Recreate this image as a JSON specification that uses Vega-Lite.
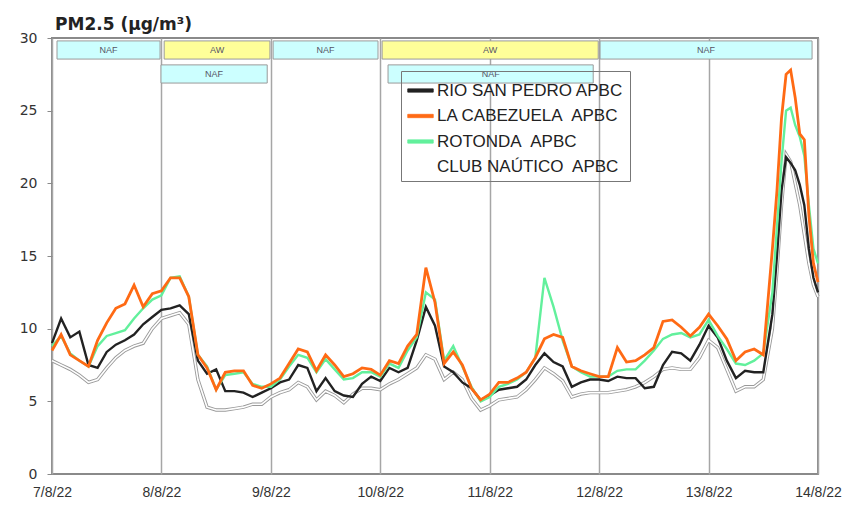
{
  "$schema": "https://vega.github.io/schema/vega-lite/v6.json",
  "width": 766,
  "height": 436,
  "autosize": {"type": "none"},
  "padding": {"left": 52, "top": 38, "right": 28, "bottom": 56},
  "background": "#ffffff",
  "title": {"text": "PM2.5 (µg/m³)", "anchor": "start", "frame": "group", "font": "DejaVu Sans", "fontSize": 17, "fontWeight": "bold", "color": "#222222", "offset": -3, "dx": 3},
  "config": {
    "view": {"stroke": "#8a8a8a", "strokeWidth": 2},
    "axis": {"labelFont": "DejaVu Sans", "labelColor": "#333333"}
  },
  "datasets": {
    "pm": [
      {"t":"2022-08-07T00:00:00Z","a":9.0,"b":8.5,"c":8.8,"d":7.8},
      {"t":"2022-08-07T02:00:00Z","a":10.7,"b":9.6,"c":9.5,"d":7.5},
      {"t":"2022-08-07T04:00:00Z","a":9.4,"b":8.2,"c":8.3,"d":7.2},
      {"t":"2022-08-07T06:00:00Z","a":9.8,"b":7.8,"c":7.8,"d":6.8},
      {"t":"2022-08-07T08:00:00Z","a":7.5,"b":7.4,"c":7.4,"d":6.3},
      {"t":"2022-08-07T10:00:00Z","a":7.3,"b":9.2,"c":8.8,"d":6.5},
      {"t":"2022-08-07T12:00:00Z","a":8.4,"b":10.4,"c":9.5,"d":7.3},
      {"t":"2022-08-07T14:00:00Z","a":8.9,"b":11.4,"c":9.7,"d":8.0},
      {"t":"2022-08-07T16:00:00Z","a":9.2,"b":11.7,"c":9.9,"d":8.5},
      {"t":"2022-08-07T18:00:00Z","a":9.6,"b":13.0,"c":10.7,"d":8.8},
      {"t":"2022-08-07T20:00:00Z","a":10.3,"b":11.5,"c":11.4,"d":9.0},
      {"t":"2022-08-07T22:00:00Z","a":10.8,"b":12.4,"c":12.0,"d":10.0},
      {"t":"2022-08-08T00:00:00Z","a":11.3,"b":12.6,"c":12.3,"d":10.7},
      {"t":"2022-08-08T02:00:00Z","a":11.4,"b":13.5,"c":13.5,"d":10.9},
      {"t":"2022-08-08T04:00:00Z","a":11.6,"b":13.5,"c":13.6,"d":11.1},
      {"t":"2022-08-08T06:00:00Z","a":11.0,"b":12.2,"c":12.2,"d":10.3},
      {"t":"2022-08-08T08:00:00Z","a":7.8,"b":8.2,"c":8.2,"d":6.5},
      {"t":"2022-08-08T10:00:00Z","a":6.9,"b":7.3,"c":7.4,"d":4.6},
      {"t":"2022-08-08T12:00:00Z","a":7.2,"b":5.8,"c":5.8,"d":4.4},
      {"t":"2022-08-08T14:00:00Z","a":5.7,"b":7.0,"c":6.8,"d":4.4},
      {"t":"2022-08-08T16:00:00Z","a":5.7,"b":7.1,"c":6.9,"d":4.5},
      {"t":"2022-08-08T18:00:00Z","a":5.6,"b":7.1,"c":7.0,"d":4.6},
      {"t":"2022-08-08T20:00:00Z","a":5.3,"b":6.1,"c":6.2,"d":4.8},
      {"t":"2022-08-08T22:00:00Z","a":5.6,"b":5.9,"c":6.0,"d":4.8},
      {"t":"2022-08-09T00:00:00Z","a":5.9,"b":6.2,"c":6.0,"d":5.3},
      {"t":"2022-08-09T02:00:00Z","a":6.3,"b":6.6,"c":6.5,"d":5.6},
      {"t":"2022-08-09T04:00:00Z","a":6.5,"b":7.6,"c":7.4,"d":5.8},
      {"t":"2022-08-09T06:00:00Z","a":7.5,"b":8.6,"c":8.2,"d":6.3},
      {"t":"2022-08-09T08:00:00Z","a":7.3,"b":8.4,"c":8.0,"d":6.0},
      {"t":"2022-08-09T10:00:00Z","a":5.7,"b":7.1,"c":7.0,"d":5.1},
      {"t":"2022-08-09T12:00:00Z","a":6.6,"b":8.2,"c":7.9,"d":5.7},
      {"t":"2022-08-09T14:00:00Z","a":5.7,"b":7.5,"c":7.2,"d":5.4},
      {"t":"2022-08-09T16:00:00Z","a":5.4,"b":6.7,"c":6.5,"d":4.9},
      {"t":"2022-08-09T18:00:00Z","a":5.3,"b":6.9,"c":6.6,"d":5.5},
      {"t":"2022-08-09T20:00:00Z","a":6.2,"b":7.3,"c":7.0,"d":5.9},
      {"t":"2022-08-09T22:00:00Z","a":6.7,"b":7.2,"c":7.0,"d":5.9},
      {"t":"2022-08-10T00:00:00Z","a":6.4,"b":6.8,"c":6.7,"d":5.8},
      {"t":"2022-08-10T02:00:00Z","a":7.3,"b":7.8,"c":7.6,"d":6.2},
      {"t":"2022-08-10T04:00:00Z","a":7.0,"b":7.6,"c":7.3,"d":6.5},
      {"t":"2022-08-10T06:00:00Z","a":7.3,"b":8.8,"c":8.5,"d":6.9},
      {"t":"2022-08-10T08:00:00Z","a":9.2,"b":9.6,"c":9.4,"d":7.3},
      {"t":"2022-08-10T10:00:00Z","a":11.5,"b":14.2,"c":12.5,"d":8.2},
      {"t":"2022-08-10T12:00:00Z","a":10.2,"b":11.8,"c":12.0,"d":7.9},
      {"t":"2022-08-10T14:00:00Z","a":7.4,"b":7.6,"c":7.8,"d":6.5},
      {"t":"2022-08-10T16:00:00Z","a":7.0,"b":8.4,"c":8.8,"d":7.0},
      {"t":"2022-08-10T18:00:00Z","a":6.3,"b":7.5,"c":7.4,"d":6.5},
      {"t":"2022-08-10T20:00:00Z","a":5.9,"b":5.9,"c":6.0,"d":5.2},
      {"t":"2022-08-10T22:00:00Z","a":5.1,"b":5.1,"c":5.0,"d":4.4},
      {"t":"2022-08-11T00:00:00Z","a":5.4,"b":5.5,"c":5.3,"d":4.7},
      {"t":"2022-08-11T02:00:00Z","a":5.8,"b":6.3,"c":6.0,"d":5.1},
      {"t":"2022-08-11T04:00:00Z","a":5.9,"b":6.3,"c":6.2,"d":5.2},
      {"t":"2022-08-11T06:00:00Z","a":6.0,"b":6.6,"c":6.5,"d":5.3},
      {"t":"2022-08-11T08:00:00Z","a":6.5,"b":7.0,"c":7.0,"d":5.8},
      {"t":"2022-08-11T10:00:00Z","a":7.5,"b":8.0,"c":8.0,"d":6.5},
      {"t":"2022-08-11T12:00:00Z","a":8.3,"b":9.3,"c":13.5,"d":7.3},
      {"t":"2022-08-11T14:00:00Z","a":7.7,"b":9.6,"c":11.5,"d":6.9},
      {"t":"2022-08-11T16:00:00Z","a":7.4,"b":9.4,"c":9.2,"d":6.4},
      {"t":"2022-08-11T18:00:00Z","a":6.0,"b":7.4,"c":7.4,"d":5.3},
      {"t":"2022-08-11T20:00:00Z","a":6.3,"b":7.1,"c":7.0,"d":5.5},
      {"t":"2022-08-11T22:00:00Z","a":6.5,"b":6.9,"c":6.7,"d":5.6},
      {"t":"2022-08-12T00:00:00Z","a":6.5,"b":6.7,"c":6.7,"d":5.6},
      {"t":"2022-08-12T02:00:00Z","a":6.4,"b":6.7,"c":6.7,"d":5.6},
      {"t":"2022-08-12T04:00:00Z","a":6.7,"b":8.7,"c":7.1,"d":5.7},
      {"t":"2022-08-12T06:00:00Z","a":6.6,"b":7.7,"c":7.2,"d":5.8},
      {"t":"2022-08-12T08:00:00Z","a":6.6,"b":7.8,"c":7.2,"d":6.0},
      {"t":"2022-08-12T10:00:00Z","a":5.9,"b":8.2,"c":7.8,"d":6.3},
      {"t":"2022-08-12T12:00:00Z","a":6.0,"b":8.7,"c":8.5,"d":6.7},
      {"t":"2022-08-12T14:00:00Z","a":7.5,"b":10.5,"c":9.3,"d":7.2},
      {"t":"2022-08-12T16:00:00Z","a":8.4,"b":10.6,"c":9.6,"d":7.3},
      {"t":"2022-08-12T18:00:00Z","a":8.3,"b":10.1,"c":9.7,"d":7.2},
      {"t":"2022-08-12T20:00:00Z","a":7.8,"b":9.5,"c":9.4,"d":7.2},
      {"t":"2022-08-12T22:00:00Z","a":8.9,"b":10.1,"c":9.6,"d":8.0},
      {"t":"2022-08-13T00:00:00Z","a":10.2,"b":11.0,"c":10.6,"d":9.2},
      {"t":"2022-08-13T02:00:00Z","a":9.4,"b":10.2,"c":9.5,"d":8.7},
      {"t":"2022-08-13T04:00:00Z","a":7.8,"b":9.3,"c":8.6,"d":7.2},
      {"t":"2022-08-13T06:00:00Z","a":6.6,"b":7.8,"c":7.6,"d":5.7},
      {"t":"2022-08-13T08:00:00Z","a":7.1,"b":8.4,"c":7.5,"d":6.0},
      {"t":"2022-08-13T10:00:00Z","a":7.0,"b":8.6,"c":7.8,"d":6.0},
      {"t":"2022-08-13T12:00:00Z","a":7.0,"b":8.2,"c":8.3,"d":6.5},
      {"t":"2022-08-13T14:00:00Z","a":11.0,"b":15.5,"c":12.5,"d":10.0},
      {"t":"2022-08-13T15:00:00Z","a":15.0,"b":19.5,"c":17.0,"d":14.0},
      {"t":"2022-08-13T16:00:00Z","a":19.5,"b":24.5,"c":21.5,"d":18.5},
      {"t":"2022-08-13T17:00:00Z","a":21.8,"b":27.5,"c":25.0,"d":22.0},
      {"t":"2022-08-13T18:00:00Z","a":21.4,"b":27.8,"c":25.2,"d":21.5},
      {"t":"2022-08-13T19:00:00Z","a":20.9,"b":25.9,"c":24.0,"d":20.0},
      {"t":"2022-08-13T20:00:00Z","a":19.9,"b":23.4,"c":23.2,"d":18.5},
      {"t":"2022-08-13T21:00:00Z","a":18.5,"b":23.0,"c":21.9,"d":16.5},
      {"t":"2022-08-13T22:00:00Z","a":15.5,"b":17.8,"c":18.5,"d":14.5},
      {"t":"2022-08-13T23:00:00Z","a":13.5,"b":14.5,"c":15.5,"d":13.0},
      {"t":"2022-08-14T00:00:00Z","a":12.5,"b":13.2,"c":14.5,"d":12.2}
    ],
    "episodes": [
      {"type":"NAF","lane":1,"start":"2022-08-07T01:06:00Z","end":"2022-08-07T23:42:00Z"},
      {"type":"AW","lane":1,"start":"2022-08-08T00:36:00Z","end":"2022-08-08T23:48:00Z"},
      {"type":"NAF","lane":1,"start":"2022-08-09T00:30:00Z","end":"2022-08-09T23:30:00Z"},
      {"type":"AW","lane":1,"start":"2022-08-10T00:24:00Z","end":"2022-08-11T23:48:00Z"},
      {"type":"NAF","lane":1,"start":"2022-08-12T00:12:00Z","end":"2022-08-13T22:42:00Z"},
      {"type":"NAF","lane":2,"start":"2022-08-07T23:54:00Z","end":"2022-08-08T23:12:00Z"},
      {"type":"NAF","lane":2,"start":"2022-08-10T01:42:00Z","end":"2022-08-11T22:42:00Z"}
    ]
  },
  "layer": [
    {
      "data": {"name": "episodes", "format": {"parse": {"start": "date", "end": "date"}}},
      "transform": [{"filter": "datum.lane === 1"}],
      "mark": {"type": "rect", "stroke": "#9a9a9a", "strokeWidth": 1},
      "encoding": {
        "x": {"field": "start", "type": "temporal", "title": null,
          "scale": {"type": "utc", "domain": [{"year": 2022, "month": 8, "date": 7, "utc": true}, {"year": 2022, "month": 8, "date": 14, "utc": true}]},
          "axis": {"labelExpr": "utcFormat(datum.value, '%-d/%-m/%y')", "tickCount": {"interval": "day", "step": 1},
            "grid": true, "gridColor": "#a6a6a6", "gridWidth": 1.5, "gridOpacity": 1,
            "domain": false, "ticks": false, "labelPadding": 11, "labelFont": "Liberation Sans", "labelFontSize": 14,
            "labelColor": "#333333", "labelOverlap": false, "labelFlush": false, "labelBound": false}},
        "x2": {"field": "end"},
        "y": {"datum": 29.8, "type": "quantitative", "title": null,
          "scale": {"domain": [0, 30], "nice": false, "zero": true},
          "axis": {"values": [0, 5, 10, 15, 20, 25, 30], "grid": false, "domain": false, "ticks": true, "tickSize": 5,
            "tickColor": "#8a8a8a", "labelPadding": 10, "labelFontSize": 14, "labelFont": "DejaVu Sans", "labelColor": "#333333"}},
        "y2": {"datum": 28.55},
        "fill": {"field": "type", "type": "nominal", "scale": {"domain": ["NAF", "AW"], "range": ["#ccffff", "#ffff99"]}, "legend": null}
      }
    },
    {
      "data": {"name": "episodes", "format": {"parse": {"start": "date", "end": "date"}}},
      "transform": [{"filter": "datum.lane === 2"}],
      "mark": {"type": "rect", "stroke": "#9a9a9a", "strokeWidth": 1},
      "encoding": {
        "x": {"field": "start", "type": "temporal", "title": null},
        "x2": {"field": "end"},
        "y": {"datum": 28.15, "title": null},
        "y2": {"datum": 26.9},
        "fill": {"field": "type", "type": "nominal", "legend": null}
      }
    },
    {
      "data": {"name": "episodes", "format": {"parse": {"start": "date", "end": "date"}}},
      "transform": [
        {"calculate": "(time(datum.start) + time(datum.end)) / 2", "as": "mid"},
        {"calculate": "datum.lane === 1 ? 29.2 : 27.55", "as": "ly"}
      ],
      "mark": {"type": "text", "font": "Liberation Sans", "fontSize": 9, "color": "#555566", "baseline": "middle"},
      "encoding": {
        "x": {"field": "mid", "type": "temporal", "title": null},
        "y": {"field": "ly", "type": "quantitative", "title": null},
        "text": {"field": "type"}
      }
    },
    {
      "data": {"name": "pm"},
      "transform": [{"fold": ["d", "a", "c", "b"], "as": ["station", "value"]}, {"filter": "datum.station === 'd'"}],
      "mark": {"type": "line", "stroke": "#9a9a9a", "strokeWidth": 3.4},
      "encoding": {
        "x": {"field": "t", "type": "temporal", "title": null},
        "y": {"field": "value", "type": "quantitative", "title": null}
      }
    },
    {
      "data": {"name": "pm"},
      "transform": [{"fold": ["d", "a", "c", "b"], "as": ["station", "value"]}, {"filter": "datum.station === 'd'"}],
      "mark": {"type": "line", "strokeWidth": 1.6},
      "encoding": {
        "x": {"field": "t", "type": "temporal", "title": null},
        "y": {"field": "value", "type": "quantitative", "title": null},
        "color": {"field": "station", "type": "nominal",
          "scale": {"domain": ["a", "b", "c", "d"], "range": ["#222222", "#ff6a14", "#62f09c", "#ffffff"]},
          "legend": {"orient": "none", "legendX": 349, "legendY": 33, "title": null,
            "labelExpr": "{'a': 'RIO SAN PEDRO APBC', 'b': 'LA CABEZUELA\u00a0 APBC', 'c': 'ROTONDA\u00a0 APBC', 'd': 'CLUB NAÚTICO\u00a0 APBC'}[datum.value]",
            "symbolType": "M-1,-0.13H1V0.13H-1Z", "symbolSize": 650, "labelLimit": 300,
            "labelFont": "Liberation Sans", "labelFontSize": 17, "labelColor": "#222222", "labelOffset": 3,
            "padding": 6, "rowPadding": 3.5, "strokeColor": "#777777", "fillColor": null,
            "encode": {"symbols": {"update": {
              "fill": {"scale": "color", "field": "value"},
              "stroke": [{"test": "datum.value === 'd'", "value": "#999999"}, {"value": "transparent"}],
              "strokeWidth": {"value": 0.8}}}}}}
      }
    },
    {
      "data": {"name": "pm"},
      "transform": [{"fold": ["d", "a", "c", "b"], "as": ["station", "value"]}, {"filter": "datum.station === 'a'"}],
      "mark": {"type": "line", "strokeWidth": 2.4},
      "encoding": {
        "x": {"field": "t", "type": "temporal", "title": null},
        "y": {"field": "value", "type": "quantitative", "title": null},
        "color": {"field": "station", "type": "nominal"}
      }
    },
    {
      "data": {"name": "pm"},
      "transform": [{"fold": ["d", "a", "c", "b"], "as": ["station", "value"]}, {"filter": "datum.station === 'c'"}],
      "mark": {"type": "line", "strokeWidth": 2.4},
      "encoding": {
        "x": {"field": "t", "type": "temporal", "title": null},
        "y": {"field": "value", "type": "quantitative", "title": null},
        "color": {"field": "station", "type": "nominal"}
      }
    },
    {
      "data": {"name": "pm"},
      "transform": [{"fold": ["d", "a", "c", "b"], "as": ["station", "value"]}, {"filter": "datum.station === 'b'"}],
      "mark": {"type": "line", "strokeWidth": 2.8},
      "encoding": {
        "x": {"field": "t", "type": "temporal", "title": null},
        "y": {"field": "value", "type": "quantitative", "title": null},
        "color": {"field": "station", "type": "nominal"}
      }
    },
    {
      "mark": {"type": "rule", "color": "#ff2b2b", "strokeWidth": 3},
      "encoding": {"y": {"datum": 20, "title": null}}
    }
  ]
}
